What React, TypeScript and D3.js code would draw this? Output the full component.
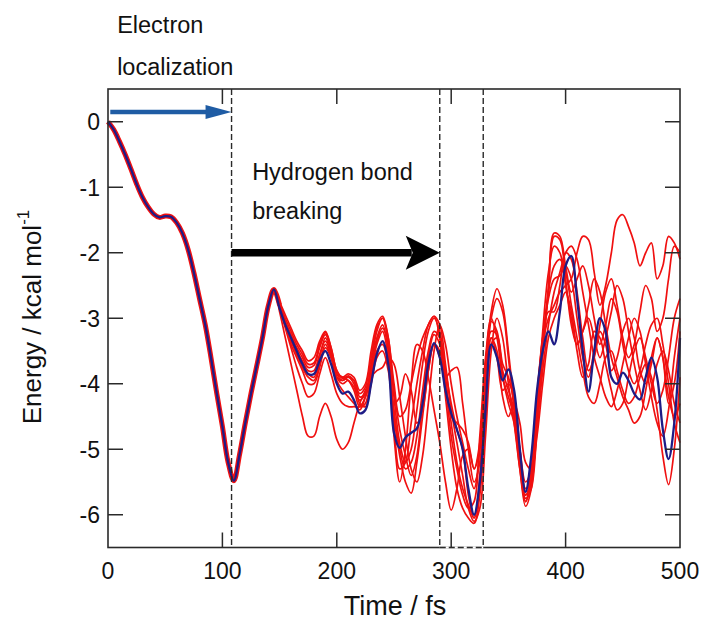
import React from 'react'
import * as d3 from 'd3'

const WIDTH = 703
const HEIGHT = 630
const margin = { top: 89, right: 23, bottom: 82.5, left: 108 }

const xTicks = [0, 100, 200, 300, 400, 500]
const yTicks = [0, -1, -2, -3, -4, -5, -6]

// markers (fs)
const dashedTimes = [108, 290, 328]

// shared part of all trajectories, t = 0..145 fs every 5 fs
const earlyTimes = d3.range(0, 150, 5)
const early = [
  0, -0.12, -0.3, -0.5, -0.72, -0.95, -1.15, -1.3, -1.41, -1.46,
  -1.44, -1.45, -1.54, -1.7, -1.95, -2.3, -2.7, -3.1, -3.6, -4.14,
  -4.65, -5.2, -5.48, -5.08, -4.6, -4.15, -3.73, -3.3, -2.82, -2.56,
]

// individual trajectories, t = 150..500 fs every 5 fs
const lateTimes = d3.range(150, 505, 5)

const average = [
  -2.85, -3.1, -3.3, -3.5, -3.7, -3.85, -3.85, -3.65, -3.5, -3.7,
  -4.0, -4.15, -4.12, -4.25, -4.45, -4.4, -4.0, -3.55, -3.35, -3.7,
  -4.75, -4.98, -4.82, -4.75, -4.68, -4.3, -3.7, -3.38, -3.6, -4.1,
  -4.45, -4.7, -5.0, -5.6, -6.0, -5.5, -4.4, -3.4, -3.6, -3.95,
  -3.78, -4.1, -5.0, -5.65, -5.1, -4.1, -3.5, -3.2, -3.4, -2.9,
  -2.2, -2.05, -2.7, -3.5, -4.12, -3.5, -3.0, -3.2, -3.9, -4.0,
  -3.83, -3.95, -4.15, -4.24, -3.9, -3.6, -3.9, -4.7, -5.15, -4.6,
  -3.3,
]

const run1 = [
  -2.8, -3.05, -3.25, -3.45, -3.6, -3.75, -3.72, -3.45, -3.25, -3.5,
  -3.85, -3.95, -3.9, -3.95, -4.2, -4.15, -3.7, -3.2, -3.0, -3.3,
  -4.2, -4.9, -5.2, -5.0, -4.4, -3.7, -3.2, -3.0, -3.2, -3.9,
  -4.6, -5.2, -5.6, -5.85, -6.05, -5.4, -4.0, -3.2, -3.25, -3.7,
  -3.9, -4.3, -5.2, -5.8, -5.3, -4.2, -3.3, -2.7, -2.4, -2.35,
  -2.2, -2.4, -3.0, -3.6, -3.9, -3.5, -3.2, -3.4, -3.8, -3.6,
  -3.2, -3.0, -3.3, -3.8, -4.0, -3.7, -3.3, -3.6, -4.3, -4.0,
  -3.2,
]
const run2 = [
  -2.9, -3.3, -3.7, -4.1, -4.5, -4.8, -4.8, -4.5, -4.3, -4.5,
  -4.85, -5.0, -4.9, -4.6, -4.3, -4.1, -3.9, -3.8, -3.75, -3.6,
  -3.7, -4.2, -4.8, -5.3, -5.5, -5.1, -4.3, -3.5, -3.1, -3.4,
  -4.0, -4.5, -4.9, -5.3, -5.6, -5.0, -3.8, -2.9, -2.55, -2.8,
  -3.5, -4.3, -5.0, -5.5, -5.3, -4.5, -3.5, -2.6, -1.75, -1.8,
  -2.4, -3.1, -3.4, -3.2, -3.0, -3.3, -3.6, -3.3, -2.9, -2.5,
  -2.7, -3.2, -3.7, -4.1, -4.4, -4.1, -3.7, -3.5, -3.8, -4.3,
  -4.6,
]
const run3 = [
  -2.85, -3.15, -3.45, -3.75, -4.0, -4.2, -4.15, -3.85, -3.6, -3.85,
  -4.15, -4.3, -4.35, -4.35, -4.35, -4.2, -3.9, -3.5, -3.4, -3.7,
  -4.5, -5.1, -5.5, -5.67, -5.2, -4.5, -3.8, -3.4, -3.5, -4.2,
  -5.0, -5.6, -5.9, -6.05, -6.13, -5.7, -4.5, -3.4, -3.3, -3.9,
  -4.3, -4.6, -5.3, -5.87, -5.6, -4.5, -3.4, -2.6, -2.2, -2.1,
  -2.3, -2.8, -3.3, -3.8, -4.2, -4.3, -4.0, -3.6, -3.5, -3.8,
  -4.1, -4.3, -4.2, -3.9, -3.7, -3.9, -4.4, -5.1, -5.54, -5.0,
  -3.9,
]
const run4 = [
  -2.75, -2.95, -3.15, -3.35, -3.5, -3.65, -3.6, -3.35, -3.2, -3.45,
  -3.8, -3.9, -3.85, -3.9, -4.1, -4.0, -3.5, -3.1, -2.97, -3.3,
  -4.0, -4.5, -4.4, -4.0, -3.6, -3.3, -3.1, -2.97, -3.3, -4.0,
  -4.8, -5.3, -5.7, -5.9, -5.8, -4.8, -3.6, -3.0, -3.3, -3.9,
  -4.2, -4.5, -5.1, -5.6, -5.4, -4.3, -3.4, -3.0, -2.8, -2.6,
  -2.5, -2.4, -2.0, -1.75, -1.8, -2.3, -2.8, -2.5, -2.0, -1.5,
  -1.42, -1.6, -1.85, -2.2, -2.0, -1.85, -2.4, -2.2, -1.75, -1.85,
  -2.1,
]
const run5 = [
  -2.8, -3.1, -3.35, -3.55, -3.75, -3.9, -3.95, -3.7, -3.4, -3.6,
  -3.9, -3.95, -3.9, -4.0, -4.3, -4.35, -4.0, -3.6, -3.5, -3.8,
  -4.3, -4.2, -3.85, -4.1, -4.6, -4.4, -3.8, -3.4, -3.6, -3.9,
  -3.8, -3.75, -4.3, -5.0, -5.5, -5.2, -4.0, -3.3, -3.5, -4.2,
  -4.5, -4.3, -4.6, -5.2, -5.3, -4.8, -4.0, -3.3, -3.0, -2.8,
  -2.6, -2.9, -3.5, -3.9, -3.7, -3.2, -3.3, -3.7, -4.1, -4.4,
  -4.3, -3.9, -3.5, -3.3, -3.6, -4.0, -4.3, -4.1, -3.6, -3.0,
  -2.7,
]
const run6 = [
  -2.8, -3.05, -3.3, -3.5, -3.65, -3.8, -3.8, -3.55, -3.35, -3.55,
  -3.9, -4.0, -3.95, -4.05, -4.25, -4.15, -3.75, -3.3, -3.1, -3.5,
  -4.8, -5.5, -5.0, -4.0, -3.4, -3.5, -3.9, -4.4, -4.9, -5.5,
  -5.93, -5.6, -5.1, -5.0, -5.3, -5.0, -3.9, -3.0, -2.7, -2.9,
  -3.6, -4.4, -5.1, -5.7, -5.5, -4.6, -3.6, -2.5, -1.7, -1.75,
  -2.2, -2.6, -2.4, -2.2, -2.5, -3.0, -3.4, -3.1, -2.7, -2.9,
  -3.4, -3.8, -4.0, -3.8, -3.4, -3.1, -3.0, -3.4, -4.0, -4.6,
  -4.9,
]
const run7 = [
  -2.78, -3.0, -3.2, -3.4, -3.55, -3.7, -3.68, -3.4, -3.22, -3.45,
  -3.8, -3.92, -3.88, -3.95, -4.15, -4.05, -3.6, -3.15, -3.0, -3.4,
  -4.6, -5.3, -5.2, -4.6, -4.0, -3.5, -3.1, -2.97, -3.1, -3.7,
  -4.4, -4.9, -5.4, -5.9, -6.1, -5.9, -4.8, -3.5, -3.0, -3.3,
  -4.0, -4.6, -5.3, -5.8, -5.5, -4.4, -3.2, -2.3, -1.9, -2.0,
  -2.5, -3.0, -3.4, -3.2, -2.8, -2.4, -2.6, -3.1, -3.6, -3.9,
  -4.2, -4.4, -4.6, -4.5, -4.1, -3.6, -3.3, -3.6, -4.2, -4.5,
  -4.3,
]
const run8 = [
  -2.82, -3.1, -3.3, -3.55, -3.7, -3.85, -3.9, -3.6, -3.3, -3.55,
  -3.95, -4.1, -4.2, -4.3, -4.4, -4.2, -3.8, -3.4, -3.2, -3.6,
  -4.4, -5.0, -5.3, -5.2, -4.8, -4.1, -3.5, -3.2, -3.3, -3.8,
  -4.3, -4.7, -5.0, -5.7, -6.05, -5.6, -4.2, -3.3, -3.6, -4.1,
  -4.0, -4.2, -5.0, -5.7, -5.4, -4.2, -3.3, -2.9, -2.9, -2.5,
  -2.0, -2.1, -2.6, -3.3, -3.8, -3.6, -3.1, -2.6, -2.4, -2.8,
  -3.3, -3.6, -3.4, -2.9, -2.5, -2.7, -3.2, -3.0, -2.4, -1.9,
  -2.0,
]
const run9 = [
  -2.8, -3.1, -3.4, -3.6, -3.8, -4.0, -4.0, -3.75, -3.45, -3.6,
  -3.85, -3.9, -3.95, -4.1, -4.35, -4.3, -3.85, -3.35, -3.15, -3.4,
  -4.1, -4.7, -5.1, -5.4, -5.1, -4.3, -3.6, -3.25, -3.4, -4.0,
  -4.5, -4.6, -4.7, -4.9, -5.3, -4.9, -3.7, -3.05, -3.2, -3.8,
  -4.1, -4.4, -5.1, -5.75, -5.6, -4.7, -3.8, -3.1, -2.6, -2.3,
  -2.0, -1.9, -2.1, -2.6, -3.1, -3.6, -3.9, -4.2, -4.35, -4.1,
  -3.7, -3.3, -3.0, -3.2, -3.7, -4.2, -4.6, -4.8, -4.4, -3.6,
  -3.0,
]

const redRuns = [run1, run2, run3, run4, run5, run6, run7, run8, run9]

const RED = '#f01010'
const NAVY = '#1e1c86'
const AXIS = '#2a2a2a'
const FONT = '"Liberation Sans", Arial, sans-serif'

export default function App() {
  const innerWidth = WIDTH - margin.left - margin.right
  const innerHeight = HEIGHT - margin.top - margin.bottom

  const xScale = d3.scaleLinear().domain([0, 500]).range([0, innerWidth])
  const yScale = d3.scaleLinear().domain([-6.5, 0.5]).range([innerHeight, 0])

  const line = d3
    .line<[number, number]>()
    .x(d => xScale(d[0]))
    .y(d => yScale(d[1]))
    .curve(d3.curveCatmullRom.alpha(0.5))

  const toPoints = (late: number[]): [number, number][] => [
    ...earlyTimes.map((t, i) => [t, early[i]] as [number, number]),
    ...lateTimes.map((t, i) => [t, late[i]] as [number, number]),
  ]
  const earlyPts = toPoints([]).slice(0, earlyTimes.length).concat([[150, -2.8]])

  const tickLen = 15

  // arrows
  const blueY = yScale(0.15)
  const blueX0 = xScale(2)
  const blueX1 = xScale(dashedTimes[0])
  const blackY = yScale(-2)
  const blackX0 = xScale(dashedTimes[0])
  const blackX1 = xScale(dashedTimes[1])

  return (
    <svg
      width={WIDTH}
      height={HEIGHT}
      style={{ position: 'absolute', left: 0, top: 0, background: '#fff' }}
      fontFamily={FONT}
    >
      <g transform={`translate(${margin.left},${margin.top})`}>
        {/* trajectories */}
        {redRuns.map((r, i) => (
          <path key={i} d={line(toPoints(r)) || ''} fill="none" stroke={RED} strokeWidth={1.7} />
        ))}
        <path d={line(earlyPts) || ''} fill="none" stroke={RED} strokeWidth={5} />
        <path d={line(toPoints(average)) || ''} fill="none" stroke={NAVY} strokeWidth={2.3} />

        {/* dashed markers */}
        {dashedTimes.map((t, i) => (
          <line
            key={i}
            x1={xScale(t)}
            x2={xScale(t)}
            y1={0}
            y2={innerHeight}
            stroke={AXIS}
            strokeWidth={1.4}
            strokeDasharray="6,3"
          />
        ))}

        {/* frame */}
        <rect x={0} y={0} width={innerWidth} height={innerHeight} fill="none" stroke={AXIS} strokeWidth={1.6} />
        <line
          x1={xScale(dashedTimes[1])}
          x2={xScale(dashedTimes[2])}
          y1={innerHeight}
          y2={innerHeight}
          stroke="#fff"
          strokeWidth={2}
        />
        <line
          x1={xScale(dashedTimes[1])}
          x2={xScale(dashedTimes[2])}
          y1={innerHeight}
          y2={innerHeight}
          stroke={AXIS}
          strokeWidth={1.4}
          strokeDasharray="6,3"
        />

        {/* ticks */}
        {xTicks.slice(1, -1).map(t => (
          <g key={t} transform={`translate(${xScale(t)},0)`}>
            <line y1={0} y2={tickLen} stroke={AXIS} strokeWidth={1.5} />
            <line y1={innerHeight} y2={innerHeight - tickLen} stroke={AXIS} strokeWidth={1.5} />
          </g>
        ))}
        {yTicks.map(t => (
          <g key={t} transform={`translate(0,${yScale(t)})`}>
            <line x1={0} x2={tickLen} stroke={AXIS} strokeWidth={1.5} />
            <line x1={innerWidth} x2={innerWidth - tickLen} stroke={AXIS} strokeWidth={1.5} />
          </g>
        ))}

        {/* tick labels */}
        {xTicks.map(t => (
          <text key={t} x={xScale(t)} y={innerHeight + 31} textAnchor="middle" fontSize={23} fill="#111">
            {t}
          </text>
        ))}
        {yTicks.map(t => (
          <text key={t} x={-8} y={yScale(t)} dy="0.36em" textAnchor="end" fontSize={23} fill="#111">
            {t === 0 ? '0' : `-${Math.abs(t)}`}
          </text>
        ))}

        {/* arrows */}
        <line x1={blueX0} x2={blueX1 - 20} y1={blueY} y2={blueY} stroke="#1f5ca4" strokeWidth={4.5} />
        <polygon
          points={`${blueX1},${blueY} ${blueX1 - 26},${blueY - 7} ${blueX1 - 26},${blueY + 7}`}
          fill="#1f5ca4"
        />
        <line x1={blackX0} x2={blackX1 - 28} y1={blackY} y2={blackY} stroke="#000" strokeWidth={7.5} />
        <polygon
          points={`${blackX1},${blackY} ${blackX1 - 34},${blackY - 17} ${blackX1 - 27},${blackY} ${blackX1 - 34},${blackY + 17}`}
          fill="#000"
        />

        {/* annotations */}
        <text x={xScale(8)} y={-56} fontSize={23.5} fill="#111">Electron</text>
        <text x={xScale(8)} y={-14} fontSize={23.5} fill="#111">localization</text>
        <text x={xScale(126)} y={91} fontSize={23.5} fill="#111">Hydrogen bond</text>
        <text x={xScale(126)} y={130} fontSize={23.5} fill="#111">breaking</text>
      </g>

      {/* axis titles */}
      <text x={395} y={615} textAnchor="middle" fontSize={27} fill="#111">
        Time / fs
      </text>
      <text transform="translate(41,317) rotate(-90)" textAnchor="middle" fontSize={26} fill="#111">
        Energy / kcal mol<tspan dy={-12} fontSize={17}>-1</tspan>
      </text>
    </svg>
  )
}
